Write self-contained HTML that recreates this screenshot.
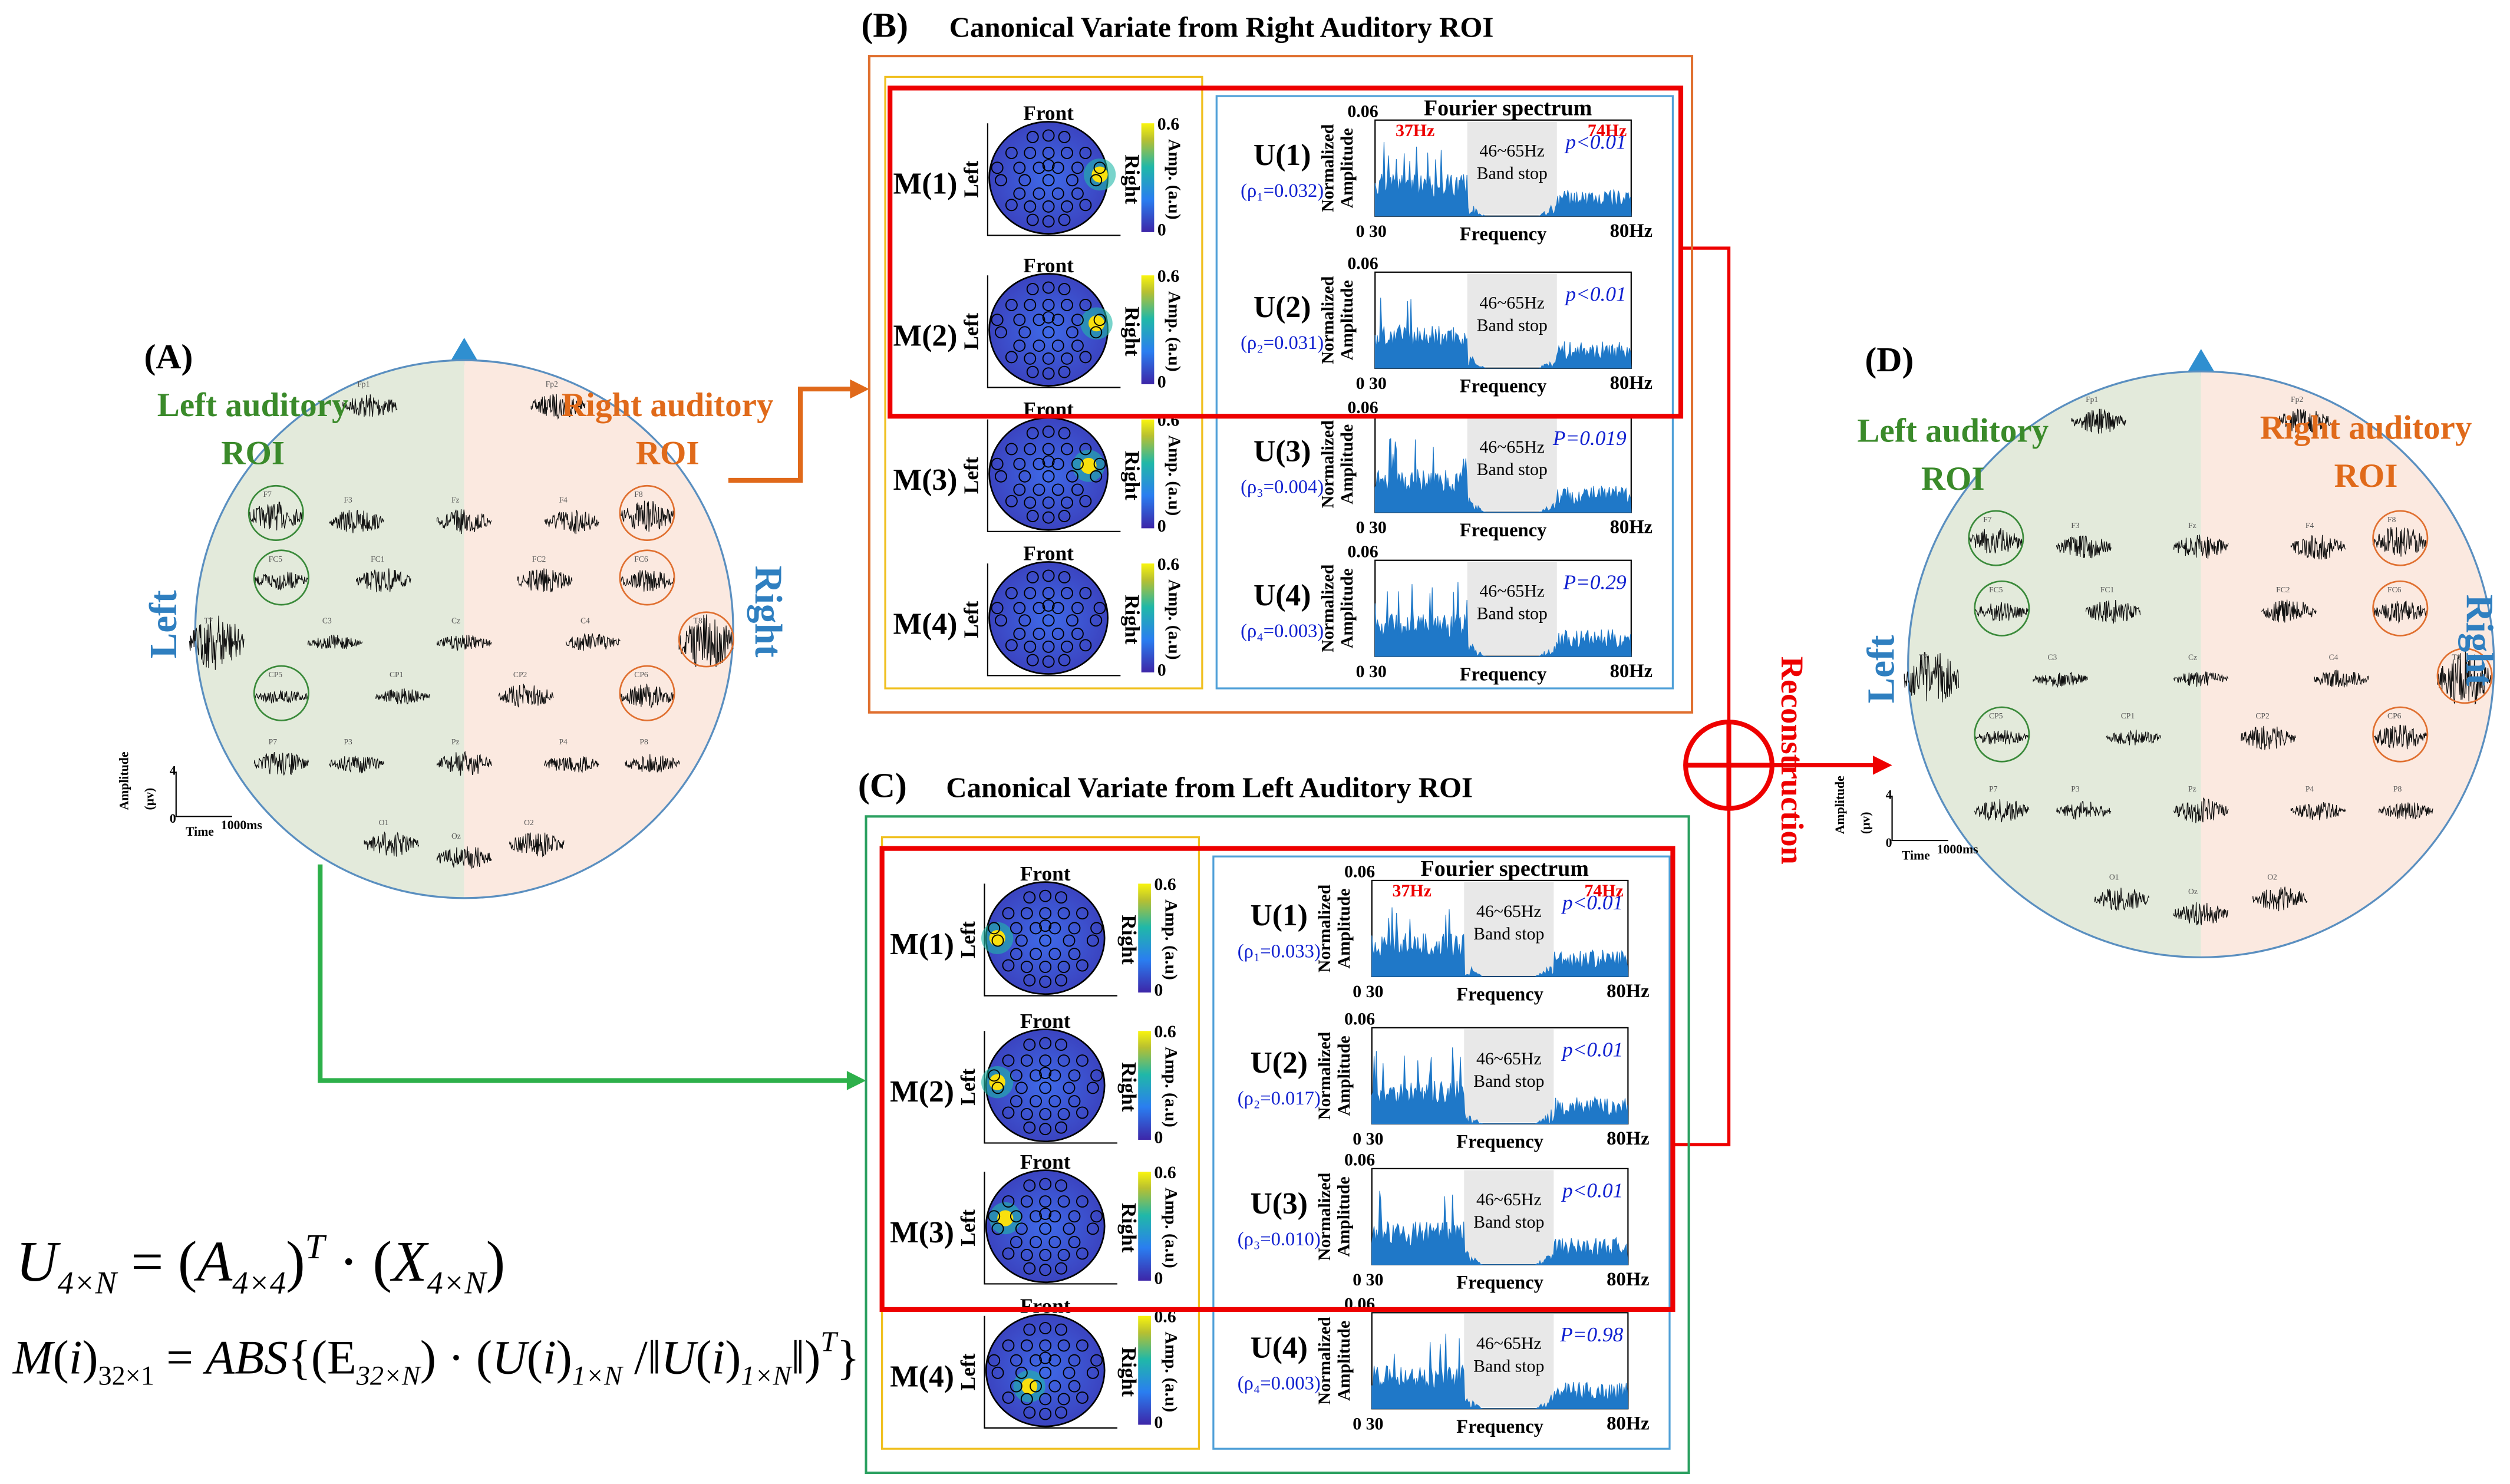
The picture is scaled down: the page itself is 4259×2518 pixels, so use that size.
<!DOCTYPE html>
<html><head><meta charset="utf-8"><style>
html,body{margin:0;padding:0;background:#fff;}
svg{display:block;}
text{font-family:"Liberation Serif",serif;}
</style></head><body>
<svg id="s" width="4259" height="2518" viewBox="0 0 1568 927" xmlns="http://www.w3.org/2000/svg">
<defs>
<linearGradient id="cb" x1="0" y1="1" x2="0" y2="0">
<stop offset="0" stop-color="#3d26a8"/><stop offset="0.3" stop-color="#2a7ef0"/><stop offset="0.6" stop-color="#20b8a8"/><stop offset="0.85" stop-color="#b8c030"/><stop offset="1" stop-color="#f9f40e"/></linearGradient>
<radialGradient id="topo" cx="0.5" cy="0.5" r="0.6"><stop offset="0" stop-color="#3f6ae8"/><stop offset="1" stop-color="#3a3cb8"/></radialGradient>
<clipPath id="cA"><circle cx="290" cy="393" r="168"/></clipPath>
<clipPath id="cD"><circle cx="1375" cy="415" r="183"/></clipPath>
</defs>
<g id="root"></g>
</svg>
<script>
const NS="http://www.w3.org/2000/svg",R=document.getElementById('root');
function el(t,a,txt,p){const e=document.createElementNS(NS,t);for(const k in a)e.setAttribute(k,a[k]);if(txt!=null)e.textContent=txt;(p||R).appendChild(e);return e;}
let seed=7;function rnd(){seed=(seed*16807)%2147483647;return seed/2147483647;}
function tx(x,y,s,o){o=o||{};return el('text',Object.assign({x:x,y:y,'font-size':o.fs||14,fill:o.c||'#000','font-weight':o.b?'bold':'normal','font-style':o.i?'italic':'normal','text-anchor':o.a||'start',transform:o.r?`rotate(${o.r} ${x} ${y})`:''},o.x||{}),s);}
function sig(x,y,w,h,g){let d='M'+x+' '+y;for(let i=0;i<=w;i+=0.35){d+=' L'+(x+i).toFixed(1)+' '+(y+(rnd()-0.5)*h*(0.3+0.7*Math.sin(i/w*Math.PI))).toFixed(1);}el('path',{d:d,stroke:'#111','stroke-width':0.45,fill:'none'},null,g);}
function head(cx,cy,r,cid,els){
 el('polygon',{points:`${cx-10},${cy-r+3} ${cx+10},${cy-r+3} ${cx},${cy-r-14}`,fill:'#2f8fd0'});
 const g=el('g',{'clip-path':`url(#${cid})`});
 el('rect',{x:cx-r,y:cy-r,width:r,height:2*r,fill:'#e3eadb'},null,g);
 el('rect',{x:cx,y:cy-r,width:r,height:2*r,fill:'#fbe9e0'},null,g);
 el('circle',{cx:cx,cy:cy,r:r,fill:'none',stroke:'#5a8fc0','stroke-width':1.2});
 els.forEach(e=>{const x=cx+e[0]*r,y=cy+e[1]*r;sig(x-17,y,34,e[3]||16,R);tx(x-8,y-12,e[2],{fs:5,c:'#555'});
  if(e[4])el('circle',{cx:x,cy:y-2,r:17,fill:'none',stroke:e[4],'stroke-width':1});});
}
const E=[[-0.35,-0.83,'Fp1'],[0.35,-0.83,'Fp2'],[-0.7,-0.42,'F7',18,'#3a8a3a'],[-0.4,-0.4,'F3'],[0,-0.4,'Fz'],[0.4,-0.4,'F4'],[0.68,-0.42,'F8',20,'#e07030'],
[-0.68,-0.18,'FC5',12,'#3a8a3a'],[-0.3,-0.18,'FC1'],[0.3,-0.18,'FC2'],[0.68,-0.18,'FC6',14,'#e07030'],[-0.92,0.05,'T7',36],[-0.48,0.05,'C3',10],[0,0.05,'Cz',10],[0.48,0.05,'C4',12],[0.9,0.05,'T8',36,'#e07030'],
[-0.68,0.25,'CP5',10,'#3a8a3a'],[-0.23,0.25,'CP1',10],[0.23,0.25,'CP2'],[0.68,0.25,'CP6',16,'#e07030'],[-0.68,0.5,'P7'],[-0.4,0.5,'P3',12],[0,0.5,'Pz'],[0.4,0.5,'P4',12],[0.7,0.5,'P8',12],[-0.27,0.8,'O1'],[0,0.85,'Oz'],[0.27,0.8,'O2']];
head(290,393,168,'cA',E);
head(1375,415,183,'cD',E);
tx(90,230,'(A)',{fs:22,b:1});
tx(158,260,'Left auditory',{fs:21,b:1,c:'#3a8a2a',a:'middle'});tx(158,290,'ROI',{fs:21,b:1,c:'#3a8a2a',a:'middle'});
tx(417,260,'Right auditory',{fs:21,b:1,c:'#e06a1a',a:'middle'});tx(417,290,'ROI',{fs:21,b:1,c:'#e06a1a',a:'middle'});
tx(110,390,'Left',{fs:24,b:1,c:'#2f7fc0',a:'middle',r:-90});tx(472,382,'Right',{fs:24,b:1,c:'#2f7fc0',a:'middle',r:90});
tx(1165,232,'(D)',{fs:22,b:1});
tx(1220,276,'Left auditory',{fs:21,b:1,c:'#3a8a2a',a:'middle'});tx(1220,306,'ROI',{fs:21,b:1,c:'#3a8a2a',a:'middle'});
tx(1478,274,'Right auditory',{fs:21,b:1,c:'#e06a1a',a:'middle'});tx(1478,304,'ROI',{fs:21,b:1,c:'#e06a1a',a:'middle'});
tx(1183,418,'Left',{fs:24,b:1,c:'#2f7fc0',a:'middle',r:-90});tx(1541,400,'Right',{fs:24,b:1,c:'#2f7fc0',a:'middle',r:90});
function scale(x,y){el('path',{d:`M${x} ${y-28} L${x} ${y} L${x+35} ${y}`,stroke:'#000',fill:'none','stroke-width':0.8});tx(x-30,y-4,'Amplitude',{fs:8,b:1,r:-90});tx(x-14,y-4,'(μv)',{fs:8,b:1,r:-90});tx(x-4,y-26,'4',{fs:8,b:1});tx(x-4,y+4,'0',{fs:8,b:1});tx(x+6,y+12,'Time',{fs:8,b:1});tx(x+28,y+8,'1000ms',{fs:8,b:1});}
scale(110,510);scale(1182,525);
el('path',{d:'M455 300 L500 300 L500 243 L535 243',stroke:'#e0691a','stroke-width':3,fill:'none'});
el('polygon',{points:'543,243 531,237 531,249',fill:'#e0691a'});
el('path',{d:'M200 540 L200 675 L533 675',stroke:'#2db04a','stroke-width':3,fill:'none'});
el('polygon',{points:'541,675 529,669 529,681',fill:'#2db04a'});
el('path',{d:'M1050 155 L1080 155 L1080 715 L1045 715',stroke:'#e00','stroke-width':2,fill:'none'});
el('circle',{cx:1080,cy:478,r:27,fill:'#fff',stroke:'#e00','stroke-width':3});
el('path',{d:'M1053 478 L1107 478 M1080 451 L1080 505',stroke:'#e00','stroke-width':3});
el('path',{d:'M1107 478 L1172 478',stroke:'#e00','stroke-width':2.5});el('polygon',{points:'1182,478 1170,472 1170,484',fill:'#e00'});
tx(1113,475,'Reconstruction',{fs:20,b:1,c:'#e00',a:'middle',r:90});
const GR=[];[[0,-0.85],[-0.3,-0.82],[0.3,-0.82],[-0.7,-0.5],[-0.35,-0.5],[0,-0.5],[0.35,-0.5],[0.7,-0.5],[-0.55,-0.2],[-0.18,-0.2],[0.18,-0.2],[0.55,-0.2],[-0.9,0.05],[-0.45,0.05],[0,0.05],[0.45,0.05],[0.9,0.05],[-0.55,0.32],[-0.18,0.32],[0.18,0.32],[0.55,0.32],[-0.7,0.55],[-0.35,0.58],[0,0.58],[0.35,0.58],[0.7,0.55],[-0.3,0.85],[0,0.88],[0.3,0.85],[-0.97,-0.2],[0.97,-0.2],[0,-0.25]].forEach(p=>GR.push(p));
function topo(x,y,spot){
 el('path',{d:`M${x-38} ${y-38} L${x-38} ${y+32} L${x+45} ${y+32}`,stroke:'#000',fill:'none','stroke-width':0.8});
 el('ellipse',{cx:x,cy:y-4,rx:37,ry:35,fill:'url(#topo)',stroke:'#000','stroke-width':1});
 if(spot){el('circle',{cx:x+spot[0],cy:y-4+spot[1],r:10,fill:'#20b8a8',opacity:0.6});el('circle',{cx:x+spot[0],cy:y-4+spot[1],r:5,fill:'#f9e00e'});}
 GR.forEach(p=>el('circle',{cx:x+p[0]*33,cy:y-4+p[1]*31,r:3.5,fill:'none',stroke:'#000','stroke-width':0.7}));
 tx(x,y-40,'Front',{fs:13,b:1,a:'middle'});tx(x-44,y-3,'Left',{fs:13,b:1,a:'middle',r:-90});tx(x+48,y-3,'Right',{fs:13,b:1,a:'middle',r:90});
 el('rect',{x:x+58,y:y-38,width:8,height:68,fill:'url(#cb)'});
 tx(x+68,y-34,'0.6',{fs:11,b:1});tx(x+68,y+32,'0',{fs:11,b:1});tx(x+75,y-3,'Amp. (a.u)',{fs:11,b:1,a:'middle',r:90});
}
function spec(x,y,w,h,U,rho,p,first){
 el('rect',{x:x,y:y,width:w,height:h,fill:'none',stroke:'#000','stroke-width':0.8});
 const bx=x+w*0.36,bw=w*0.35;el('rect',{x:bx,y:y+1,width:bw,height:h-2,fill:'#e8e8e8'});
 let d=`M${x} ${y+h}`;for(let i=0;i<=w;i+=0.7){let v;const f=i/w;if(f<0.36)v=0.2+rnd()*0.25+(rnd()<0.08?0.35:0);else if(f<0.71)v=Math.max(0,0.18-Math.sin((f-0.36)/0.35*Math.PI)*0.3)*rnd();else v=0.08+rnd()*0.2;d+=` L${(x+i).toFixed(1)} ${(y+h-v*h).toFixed(1)}`;}
 d+=` L${x+w} ${y+h} Z`;el('path',{d:d,fill:'#1f78c8',stroke:'#1f78c8','stroke-width':0.4});
 tx(bx+bw/2,y+h*0.38,'46~65Hz',{fs:11,a:'middle'});tx(bx+bw/2,y+h*0.38+14,'Band stop',{fs:11,a:'middle'});
 tx(x+w-3,y+h*0.3,p,{fs:13,c:'#1020d0',i:1,a:'end'});
 tx(x+2,y-2,'0.06',{fs:11,b:1,a:'end'});tx(x-26,y+h/2,'Normalized',{fs:11,b:1,a:'middle',r:-90});tx(x-14,y+h/2,'Amplitude',{fs:11,b:1,a:'middle',r:-90});
 tx(x-12,y+h+13,'0 30',{fs:11,b:1});tx(x+w/2,y+h+15,'Frequency',{fs:12,b:1,a:'middle'});tx(x+w,y+h+13,'80Hz',{fs:12,b:1,a:'middle'});
 tx(x-58,y+h/2-2,'U('+U+')',{fs:19,b:1,a:'middle'});tx(x-58,y+h/2+18,'('+rho+')',{fs:12,c:'#1020d0',a:'middle'});
 if(first){tx(x+25,y+10,'37Hz',{fs:11,b:1,c:'#e00',a:'middle'});tx(x+w-15,y+10,'74Hz',{fs:11,b:1,c:'#e00',a:'middle'});tx(x+w/2+3,y-3,'Fourier spectrum',{fs:14,b:1,a:'middle'});}
}
function panel(X,Y,title,rows,spots,rhos,ps,grn){
 tx(X-5,Y-12,title[0],{fs:22,b:1});tx(X+50,Y-12,title[1],{fs:18,b:1});
 el('rect',{x:X,y:Y,width:514,height:410,fill:'none',stroke:grn?'#2aa060':'#e07030','stroke-width':1.5});
 el('rect',{x:X+10,y:Y+13,width:198,height:382,fill:'none',stroke:'#f0c020','stroke-width':1.2});
 el('rect',{x:X+217,y:Y+25,width:285,height:370,fill:'none',stroke:'#50a0d8','stroke-width':1.2});
 rows.forEach((ry,i)=>{tx(X+35,ry+6,'M('+(i+1)+')',{fs:19,b:1,a:'middle'});topo(X+112,ry,spots[i]);spec(X+316,ry-40,160,60,i+1,rhos[i],ps[i],i==0);});
}
panel(543,35,['(B)','Canonical Variate from Right Auditory ROI'],[115,210,300,390],[[32,-2],[30,-4],[25,-5],null],['ρ₁=0.032','ρ₂=0.031','ρ₃=0.004','ρ₄=0.003'],['p<0.01','p<0.01','P=0.019','P=0.29'],0);
panel(541,510,['(C)','Canonical Variate from Left Auditory ROI'],[590,682,770,860],[[-30,0],[-30,-2],[-25,-5],[-10,10]],['ρ₁=0.033','ρ₂=0.017','ρ₃=0.010','ρ₄=0.003'],['p<0.01','p<0.01','p<0.01','P=0.98'],1);
el('rect',{x:556,y:55,width:494,height:205,fill:'none',stroke:'#e00','stroke-width':3});
el('rect',{x:551,y:530,width:494,height:288,fill:'none',stroke:'#e00','stroke-width':3});
const f=el('text',{x:10,y:800,'font-size':36,'font-style':'italic'});f.innerHTML='U<tspan font-size="20" dy="8">4×N</tspan><tspan dy="-8" font-style="normal"> = (</tspan>A<tspan font-size="20" dy="8">4×4</tspan><tspan dy="-8" font-style="normal">)</tspan><tspan font-size="22" dy="-14">T</tspan><tspan dy="14" font-style="normal"> · (</tspan>X<tspan font-size="20" dy="8">4×N</tspan><tspan dy="-8" font-style="normal">)</tspan>';
const g=el('text',{x:8,y:858,'font-size':30,'font-style':'italic'});g.innerHTML='M<tspan font-style="normal">(</tspan>i<tspan font-style="normal">)</tspan><tspan font-size="17" dy="7" font-style="normal">32×1</tspan><tspan dy="-7" font-style="normal"> = </tspan>ABS<tspan font-style="normal">{(E</tspan><tspan font-size="17" dy="7">32×N</tspan><tspan dy="-7" font-style="normal">) · (</tspan>U<tspan font-style="normal">(</tspan>i<tspan font-style="normal">)</tspan><tspan font-size="17" dy="7">1×N</tspan><tspan dy="-7" font-style="normal"> /‖</tspan>U<tspan font-style="normal">(</tspan>i<tspan font-style="normal">)</tspan><tspan font-size="17" dy="7">1×N</tspan><tspan dy="-7" font-style="normal">‖)</tspan><tspan font-size="18" dy="-14">T</tspan><tspan dy="14" font-style="normal">}</tspan>';
</script>
</body></html>
